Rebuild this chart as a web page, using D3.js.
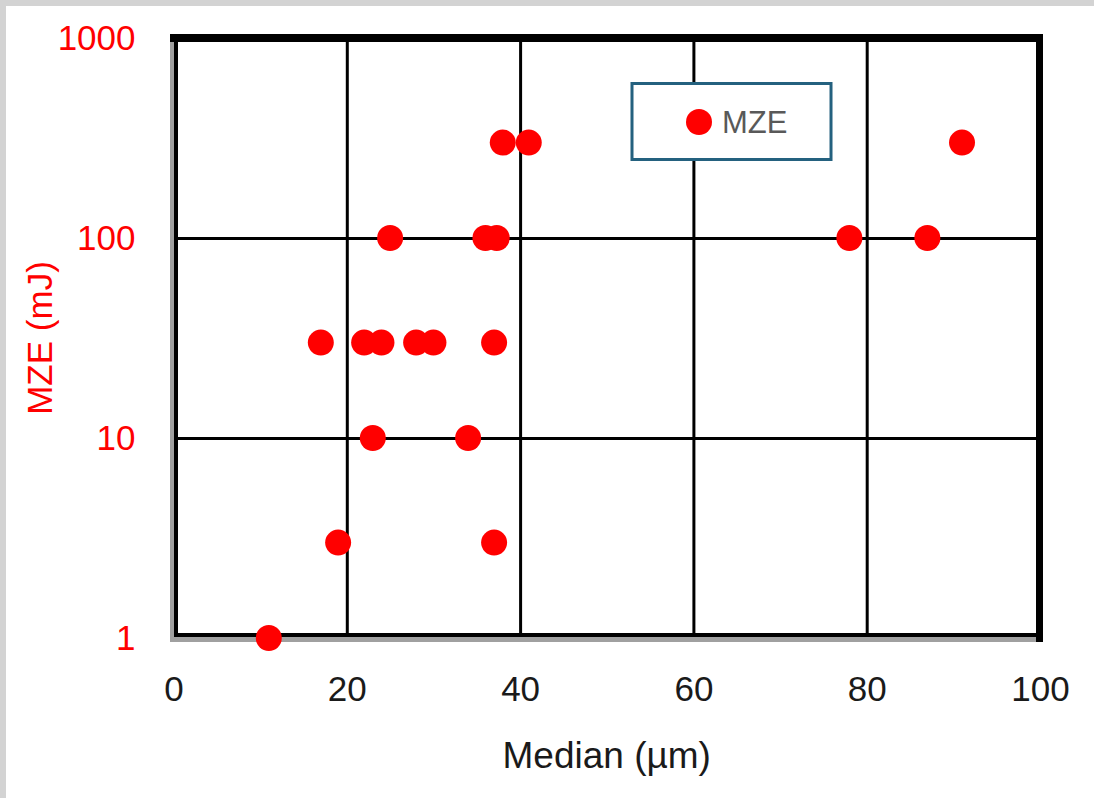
<!DOCTYPE html>
<html>
<head>
    <script type="text/javascript" src="https://cdn.jsdelivr.net/npm/d3@7"></script>
    <style>
        body { margin: 0; background: #d3d3d3; }
        svg { display: block; }
    </style>
</head>
<body>
    <div id="chart"></div>

    <script type="text/javascript">
    // values
    var median = [11, 19, 37, 23, 34, 17, 22, 24, 28, 30, 37, 25, 36, 37.3, 78, 87, 38, 41, 91];
    var mze    = [1, 3, 3, 10, 10, 30, 30, 30, 30, 30, 30, 100, 100, 100, 100, 100, 300, 300, 300];
    var xTicks = [0, 20, 40, 60, 80, 100];
    var yTicks = [1, 10, 100, 1000];
    var seriesName = "MZE";

    var width = 1094, height = 798;
    var pLeft = 173.5, pRight = 1040, pTop = 38, pBottom = 638;
    var font = "'Liberation Sans', Arial, sans-serif";

    var svg = d3.select("#chart")
        .append("svg")
        .attr("width", width)
        .attr("height", height);

    // white page with the grey edge on top and left
    svg.append("rect")
        .attr("x", 6).attr("y", 6)
        .attr("width", width - 6).attr("height", height - 6)
        .style("fill", "white");

    var x = d3.scaleLinear().domain([0, 100]).range([pLeft, pRight]);
    var y = d3.scaleLog().domain([1, 1000]).range([pBottom, pTop]);

    // grid lines
    svg.append("g")
        .attr("transform", "translate(0," + pBottom + ")")
        .call(d3.axisBottom(x).tickValues(xTicks.slice(1, -1)).tickSize(-(pBottom - pTop)).tickFormat(""))
        .call(function(g) {
            g.select(".domain").remove();
            g.selectAll("line").style("stroke", "black").style("stroke-width", 3);
        });
    svg.append("g")
        .attr("transform", "translate(" + pLeft + ",0)")
        .call(d3.axisLeft(y).tickValues(yTicks.slice(1, -1)).tickSize(-(pRight - pLeft)).tickFormat(""))
        .call(function(g) {
            g.select(".domain").remove();
            g.selectAll("line").style("stroke", "black").style("stroke-width", 3);
        });

    // plot frame: grey on the left/bottom, heavier black on top/right
    svg.append("rect").attr("x", 170).attr("y", pTop).attr("width", 4).attr("height", 604).style("fill", "#a0a0a0");
    svg.append("rect").attr("x", 170).attr("y", 637).attr("width", 873).attr("height", 5).style("fill", "#a0a0a0");
    svg.append("line").attr("x1", 176).attr("x2", 176).attr("y1", pTop).attr("y2", 637)
        .style("stroke", "black").style("stroke-width", 4);
    svg.append("line").attr("x1", 174).attr("x2", 1038).attr("y1", 635).attr("y2", 635)
        .style("stroke", "black").style("stroke-width", 4);
    svg.append("line").attr("x1", 170).attr("x2", 1043).attr("y1", 38).attr("y2", 38)
        .style("stroke", "black").style("stroke-width", 8);
    svg.append("line").attr("x1", 1039.5).attr("x2", 1039.5).attr("y1", 34).attr("y2", 642)
        .style("stroke", "black").style("stroke-width", 7);

    // tick labels
    svg.append("g")
        .attr("transform", "translate(0," + pBottom + ")")
        .call(d3.axisBottom(x).tickValues(xTicks).tickSize(0).tickPadding(38))
        .call(function(g) {
            g.select(".domain").remove();
            g.selectAll("text").style("font-family", font).style("font-size", "35px").style("fill", "#1a1a1a");
        });
    svg.append("g")
        .attr("transform", "translate(" + pLeft + ",0)")
        .call(d3.axisLeft(y).tickValues(yTicks).tickSize(0).tickPadding(38).tickFormat(d3.format("d")))
        .call(function(g) {
            g.select(".domain").remove();
            g.selectAll("text").style("font-family", font).style("font-size", "35px").style("fill", "red");
        });

    // axis titles
    svg.append("text")
        .attr("x", (pLeft + pRight) / 2).attr("y", 768)
        .attr("text-anchor", "middle")
        .style("font-family", font).style("font-size", "37px").style("fill", "#1a1a1a")
        .text("Median (\u00b5m)");
    svg.append("text")
        .attr("transform", "translate(52," + (pTop + pBottom) / 2 + ") rotate(-90)")
        .attr("text-anchor", "middle")
        .style("font-family", font).style("font-size", "35px").style("fill", "red")
        .text("MZE (mJ)");

    // points
    svg.selectAll("circle.pt")
        .data(median.map(function(d, i) { return {x: d, y: mze[i]}; }))
        .enter().append("circle")
        .attr("class", "pt")
        .attr("cx", function(d) { return x(d.x); })
        .attr("cy", function(d) { return y(d.y); })
        .attr("r", 13)
        .style("fill", "red");

    // legend
    var legend = svg.append("g");
    legend.append("rect")
        .attr("x", 632).attr("y", 83.5).attr("width", 199).attr("height", 76)
        .style("fill", "white").style("stroke", "#24617f").style("stroke-width", 3);
    legend.append("circle")
        .attr("cx", 699).attr("cy", 122).attr("r", 13).style("fill", "red");
    legend.append("text")
        .attr("x", 722).attr("y", 133)
        .style("font-family", font).style("font-size", "31px").style("fill", "#595959")
        .text(seriesName);
    </script>
</body>
</html>
